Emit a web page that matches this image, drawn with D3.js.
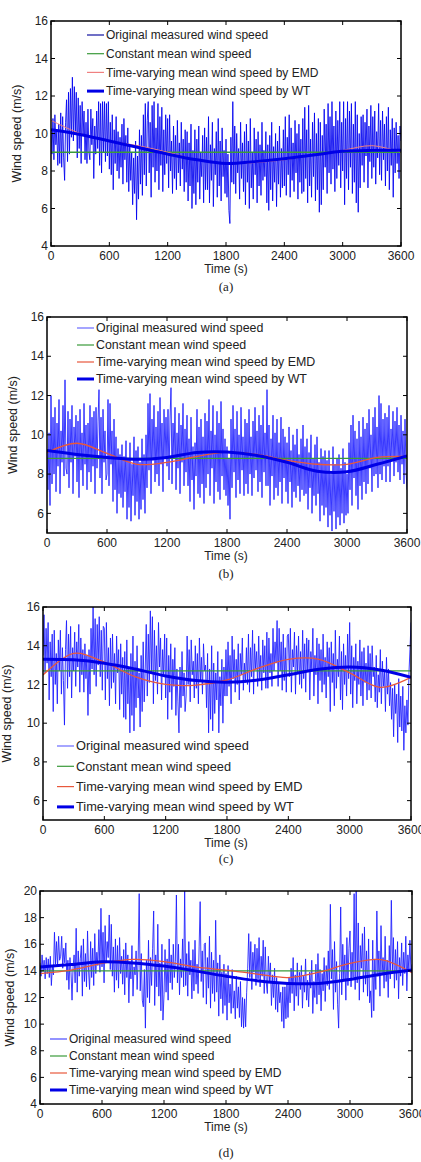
<!DOCTYPE html>
<html>
<head>
<meta charset="utf-8">
<script src="https://cdn.jsdelivr.net/npm/d3@7"></script>
<style>
  body { margin: 0; background: #fff; }
  svg { display: block; }
</style>
</head>
<body>
<div id="chart"></div>
<script>
// raw records every 10 s, smoothed means every 300 s
const smoothStep = 300;
const timeTicks = [0, 600, 1200, 1800, 2400, 3000, 3600];
const legendLabels = [
  'Original measured wind speed',
  'Constant mean wind speed',
  'Time-varying mean wind speed by EMD',
  'Time-varying mean wind speed by WT',
];
const captions = ['(a)', '(b)', '(c)', '(d)'];

// (a)
const rawA = [
  10.2, 8.9, 10.8, 8.6, 11.0, 9.4, 10.1, 8.3, 10.5, 8.4,
  11.1, 8.2, 10.9, 8.7, 7.5, 10.6, 11.8, 8.5, 12.2, 8.9,
  12.4, 9.8, 13.0, 9.6, 12.5, 10.1, 12.2, 8.7, 11.9, 9.2,
  11.5, 8.4, 11.7, 9.9, 11.2, 8.6, 10.6, 8.4, 11.3, 9.0,
  8.6, 11.3, 9.4, 10.8, 7.6, 10.4, 8.9, 11.2, 9.2, 11.7,
  8.3, 11.6, 7.9, 11.7, 9.0, 11.7, 8.5, 11.6, 8.8, 11.7,
  8.1, 10.6, 7.8, 11.0, 7.0, 10.2, 8.4, 10.9, 8.0, 10.1,
  7.6, 9.8, 8.2, 10.5, 7.3, 10.8, 8.6, 9.9, 7.4, 10.3,
  6.9, 9.4, 7.5, 9.0, 6.2, 8.7, 6.8, 9.6, 5.4, 8.8,
  6.5, 10.2, 7.3, 9.9, 6.7, 11.0, 7.8, 11.6, 7.2, 10.7,
  11.7, 7.9, 10.6, 6.6, 11.5, 8.2, 11.7, 7.4, 10.3, 8.0,
  11.6, 7.0, 10.9, 8.3, 11.4, 6.9, 10.2, 7.8, 11.0, 8.4,
  10.8, 7.1, 11.0, 8.0, 9.6, 6.8, 10.4, 7.6, 9.9, 7.0,
  10.7, 7.9, 9.5, 7.2, 10.6, 8.1, 9.7, 6.9, 10.2, 7.4,
  10.1, 6.4, 9.5, 7.2, 10.5, 6.0, 9.1, 6.8, 10.2, 6.2,
  9.7, 7.4, 10.4, 6.5, 9.0, 7.7, 9.9, 6.3, 10.3, 7.0,
  9.8, 7.0, 10.9, 6.3, 9.4, 7.5, 10.6, 6.1, 9.2, 7.8,
  10.1, 6.6, 10.8, 7.2, 9.6, 6.4, 10.3, 7.7, 9.1, 6.8,
  9.7, 6.6, 8.9, 5.9, 5.2, 9.8, 7.4, 11.7, 7.3, 10.4,
  6.8, 10.0, 7.9, 9.2, 6.5, 10.6, 7.6, 9.5, 6.9, 10.1,
  6.2, 10.5, 7.4, 9.6, 6.0, 10.8, 7.1, 9.0, 6.5, 10.3,
  7.8, 9.7, 6.3, 10.1, 7.2, 9.4, 6.7, 10.6, 7.5, 9.1,
  7.7, 10.1, 6.3, 9.4, 5.9, 9.9, 7.0, 10.6, 6.4, 9.3,
  7.4, 10.0, 6.1, 9.6, 7.3, 10.4, 6.6, 9.2, 7.1, 10.2,
  7.2, 10.9, 6.7, 9.8, 7.8, 11.0, 6.6, 10.3, 7.5, 9.5,
  6.9, 10.7, 7.9, 10.0, 6.5, 10.5, 7.4, 9.7, 6.8, 10.8,
  6.9, 11.4, 7.6, 10.2, 6.3, 11.5, 7.2, 9.7, 6.6, 10.6,
  7.7, 11.1, 6.4, 10.0, 7.0, 10.8, 5.8, 10.6, 6.2, 9.9,
  7.0, 11.3, 8.2, 10.5, 6.8, 11.6, 7.9, 10.9, 7.3, 11.7,
  8.1, 10.4, 6.9, 11.2, 7.6, 10.7, 8.3, 11.7, 7.1, 10.6,
  8.0, 11.7, 6.2, 10.8, 7.6, 11.7, 7.0, 11.2, 8.2, 11.6,
  6.8, 10.5, 7.4, 11.7, 6.3, 11.0, 5.8, 10.0, 7.1, 10.9,
  8.3, 11.0, 7.4, 10.6, 8.8, 11.3, 7.1, 10.4, 8.5, 11.5,
  7.6, 10.9, 8.2, 11.2, 7.3, 10.1, 8.7, 11.6, 7.8, 10.7,
  7.5, 11.2, 8.6, 10.5, 7.2, 10.9, 8.0, 11.4, 7.0, 10.2,
  8.3, 10.8, 6.6, 10.3, 7.9, 10.6, 8.4, 9.9, 7.6, 10.4,
  9.6,
];
const meanA = 9.0;
const emdA = [10.7, 10.0, 9.6, 9.35, 9.0, 8.6, 8.4, 8.45, 8.6, 8.85, 9.1, 9.35, 9.0];
const wtA = [10.2, 9.95, 9.6, 9.25, 8.9, 8.6, 8.4, 8.5, 8.65, 8.85, 9.05, 9.1, 9.1];

// (b)
const rawB = [
  9.2, 7.2, 10.1, 6.4, 12.0, 7.5, 10.9, 8.0, 11.4, 7.1,
  10.6, 8.4, 11.8, 7.0, 10.2, 8.6, 11.5, 7.9, 12.8, 8.3,
  8.0, 11.2, 7.3, 10.8, 8.6, 11.5, 7.0, 10.4, 8.9, 11.0,
  7.6, 10.7, 6.8, 11.3, 8.2, 10.1, 7.4, 11.6, 8.5, 10.5,
  7.2, 10.6, 8.1, 11.5, 7.6, 10.9, 8.4, 11.2, 7.0, 11.4,
  8.3, 10.7, 12.3, 7.8, 10.9, 7.0, 11.3, 8.6, 10.2, 7.7,
  8.0, 11.8, 7.4, 11.6, 8.5, 10.2, 6.6, 10.8, 7.2, 9.9,
  6.0, 9.3, 7.0, 9.0, 6.8, 9.5, 6.3, 8.9, 7.1, 9.7,
  5.7, 8.8, 6.3, 9.6, 5.6, 8.5, 6.9, 9.9, 5.9, 9.2,
  6.6, 9.4, 5.7, 8.6, 6.2, 9.8, 6.7, 9.0, 6.0, 10.0,
  7.3, 11.6, 8.2, 12.1, 7.0, 10.8, 8.7, 11.5, 7.6, 10.4,
  8.0, 11.2, 7.4, 11.9, 8.5, 10.6, 7.1, 11.3, 8.8, 10.9,
  8.4, 11.3, 7.7, 10.8, 12.4, 7.5, 10.6, 8.8, 11.4, 7.2,
  10.1, 8.3, 11.1, 7.0, 10.5, 8.6, 11.6, 7.4, 10.3, 8.1,
  11.0, 7.4, 9.8, 6.6, 10.9, 7.7, 9.4, 6.2, 9.6, 7.9,
  11.3, 7.0, 10.4, 6.8, 10.8, 7.5, 9.9, 6.5, 11.1, 7.3,
  10.7, 8.0, 11.8, 6.9, 10.2, 8.3, 11.5, 6.5, 10.0, 7.6,
  11.2, 7.1, 10.6, 6.7, 11.7, 7.9, 10.3, 7.2, 9.8, 6.9,
  9.4, 6.4, 8.8, 5.7, 10.8, 7.3, 11.5, 8.1, 10.3, 6.8,
  11.2, 7.7, 10.0, 7.0, 11.4, 8.2, 9.9, 6.9, 10.8, 7.5,
  10.6, 7.0, 11.3, 8.0, 9.9, 6.9, 10.7, 7.8, 11.4, 8.2,
  10.2, 7.1, 11.0, 7.6, 10.5, 6.8, 11.5, 8.1, 10.1, 7.4,
  12.3, 7.4, 10.5, 6.4, 9.8, 7.9, 11.0, 6.7, 10.1, 7.3,
  10.8, 6.9, 9.6, 7.6, 10.9, 6.5, 10.3, 7.8, 9.9, 7.1,
  9.6, 6.5, 10.4, 7.6, 9.2, 6.3, 10.0, 7.1, 9.5, 6.8,
  10.3, 7.4, 9.0, 6.6, 9.8, 7.2, 10.5, 6.9, 9.4, 7.0,
  9.8, 6.2, 9.1, 7.3, 10.0, 6.0, 8.8, 6.9, 9.5, 6.4,
  9.9, 7.0, 8.6, 5.6, 9.3, 6.4, 8.9, 5.9, 9.2, 6.3,
  8.7, 5.3, 9.2, 5.9, 8.0, 5.1, 9.4, 6.1, 8.5, 5.2,
  8.8, 5.8, 9.0, 5.4, 8.3, 6.0, 9.3, 5.5, 8.6, 5.9,
  8.0, 6.0, 9.6, 7.2, 10.5, 6.4, 11.0, 7.8, 10.2, 6.9,
  9.8, 6.2, 10.7, 7.4, 9.9, 6.7, 10.9, 7.6, 10.3, 7.0,
  10.6, 7.5, 11.3, 8.3, 10.0, 7.1, 10.9, 7.9, 11.4, 8.0,
  10.4, 7.3, 12.0, 8.0, 11.6, 7.7, 10.8, 8.4, 11.1, 7.6,
  10.9, 8.4, 11.5, 7.6, 10.3, 8.8, 11.2, 7.9, 10.7, 8.6,
  11.4, 8.1, 10.5, 7.7, 11.0, 8.5, 10.2, 7.5, 10.8, 8.2,
  7.2,
];
const meanB = 8.8;
const emdB = [9.1, 9.57, 9.05, 8.5, 8.6, 8.9, 9.12, 9.0, 8.7, 8.5, 8.5, 8.85, 8.9];
const wtB = [9.2, 9.0, 8.85, 8.75, 8.85, 9.1, 9.12, 8.95, 8.6, 8.15, 8.12, 8.5, 8.93];

// (c)
const rawC = [
  13.5, 15.6, 12.6, 14.9, 13.1, 15.2, 11.2, 14.2, 12.4, 14.6,
  10.6, 14.8, 12.0, 13.6, 11.0, 14.3, 12.7, 14.8, 11.5, 13.9,
  12.2, 9.9, 13.8, 15.3, 11.8, 14.6, 12.4, 15.0, 11.3, 13.9,
  12.7, 14.7, 11.9, 14.2, 12.9, 15.1, 11.6, 14.4, 12.5, 13.8,
  11.6, 14.1, 12.3, 13.5, 10.4, 13.8, 11.5, 14.9, 12.8, 16.0,
  12.5, 15.4, 11.9, 15.1, 13.0, 15.5, 12.4, 14.8, 11.7, 15.0,
  14.9, 11.2, 15.2, 12.3, 13.9, 10.9, 14.4, 11.8, 14.6, 12.1,
  13.6, 11.0, 14.5, 12.6, 13.8, 10.7, 14.1, 11.5, 13.4, 10.3,
  13.7, 10.2, 14.3, 11.0, 12.9, 9.5, 13.6, 10.4, 14.5, 9.6,
  13.2, 10.8, 14.0, 11.3, 12.6, 9.8, 13.5, 10.6, 14.2, 11.1,
  12.8, 15.1, 11.4, 14.6, 12.1, 15.8, 12.6, 15.5, 11.0, 14.8,
  12.2, 14.0, 11.5, 15.2, 12.9, 14.4, 11.2, 13.8, 12.4, 14.6,
  11.3, 14.4, 10.2, 13.5, 11.6, 14.1, 10.7, 13.3, 11.9, 13.9,
  10.4, 12.8, 11.1, 9.5, 12.9, 10.8, 13.7, 11.4, 12.6, 10.6,
  11.4, 14.5, 12.0, 13.8, 11.1, 14.3, 12.5, 13.2, 11.3, 14.0,
  11.8, 13.6, 11.0, 14.4, 12.2, 13.4, 11.5, 14.1, 12.7, 13.0,
  10.8, 13.6, 9.5, 12.8, 10.2, 14.0, 9.6, 13.1, 10.5, 12.6,
  11.2, 13.7, 9.5, 12.4, 10.9, 13.3, 10.0, 12.9, 11.4, 13.8,
  11.4, 14.2, 11.9, 13.5, 11.0, 14.5, 12.3, 13.8, 11.6, 13.3,
  12.0, 14.1, 11.2, 13.6, 12.5, 14.4, 11.7, 13.1, 12.1, 13.9,
  12.0, 14.6, 11.6, 13.9, 12.4, 14.8, 11.5, 14.1, 12.8, 13.7,
  11.9, 14.5, 12.3, 13.5, 11.7, 14.3, 12.6, 14.0, 11.8, 14.7,
  11.8, 14.4, 12.6, 13.6, 11.9, 14.9, 12.7, 14.2, 13.1, 15.3,
  11.9, 14.9, 12.7, 14.2, 11.7, 14.6, 12.2, 13.9, 11.6, 14.5,
  14.6, 12.4, 14.9, 11.6, 13.8, 12.9, 14.7, 11.5, 14.0, 12.6,
  14.5, 12.0, 13.7, 11.8, 14.8, 12.3, 14.1, 11.6, 14.4, 12.7,
  14.3, 11.2, 13.7, 12.8, 14.9, 11.4, 13.5, 12.5, 14.4, 11.0,
  14.1, 12.2, 13.8, 11.6, 14.6, 12.0, 13.4, 11.3, 14.2, 12.4,
  13.9, 10.6, 14.2, 12.1, 13.6, 10.9, 14.8, 11.8, 13.3, 12.4,
  14.5, 11.2, 13.7, 10.7, 14.1, 12.0, 13.5, 11.4, 14.6, 12.3,
  15.2, 11.5, 14.0, 10.8, 13.4, 12.2, 14.1, 11.0, 13.2, 12.0,
  14.3, 11.4, 13.7, 10.9, 13.9, 12.1, 13.1, 11.2, 14.0, 11.7,
  13.6, 11.3, 14.0, 12.4, 12.9, 11.1, 13.5, 10.8, 12.5, 11.6,
  13.8, 11.0, 13.2, 11.9, 12.7, 10.6, 13.4, 11.5, 12.8, 10.9,
  12.1, 10.2, 11.8, 9.3, 12.0, 10.5, 11.5, 9.0, 12.3, 9.8,
  11.4, 9.6, 11.9, 8.6, 10.9, 9.5, 11.2, 9.9, 12.6, 13.8,
  15.2,
];
const meanC = 12.7;
const emdC = [12.49, 13.6, 13.15, 12.4, 12.0, 11.97, 12.23, 12.83, 13.3, 13.3, 12.6, 11.85, 12.37];
const wtC = [13.3, 13.27, 13.1, 12.8, 12.44, 12.2, 12.12, 12.23, 12.5, 12.78, 12.9, 12.75, 12.37];

// (d)
const rawD = [
  14.6, 13.6, 15.2, 14.0, 14.8, 13.4, 15.0, 13.8, 14.9, 13.5,
  15.1, 12.9, 14.4, 13.7, 16.9, 14.5, 16.2, 14.3, 16.6, 14.8,
  15.1, 16.6, 14.2, 15.7, 14.6, 16.1, 13.3, 14.8, 12.6, 15.0,
  13.9, 11.8, 14.3, 15.2, 13.1, 17.2, 12.4, 15.5, 13.6, 14.9,
  15.9, 12.1, 16.4, 13.2, 15.3, 12.8, 17.0, 14.0, 12.6, 16.2,
  13.5, 15.7, 12.9, 16.8, 13.8, 15.4, 14.4, 17.1, 13.9, 18.7,
  14.3, 16.9, 13.1, 17.4, 14.6, 16.2, 15.0, 18.2, 14.1, 17.5,
  13.6, 15.8, 12.4, 16.4, 13.3, 15.9, 12.7, 16.5, 13.8, 15.1,
  13.0, 15.6, 12.2, 16.1, 13.5, 15.2, 11.6, 14.7, 13.4, 15.9,
  12.1, 14.3, 13.7, 15.5, 12.6, 14.9, 19.8, 12.5, 15.3, 11.8,
  11.3, 14.1, 9.7, 14.8, 12.0, 16.3, 11.6, 15.0, 12.9, 15.7,
  18.5, 11.4, 15.2, 12.8, 17.5, 12.1, 14.6, 11.0, 16.0, 10.3,
  12.2, 15.6, 12.4, 14.9, 11.8, 16.4, 13.1, 15.2, 12.6, 16.0,
  13.5, 14.7, 19.7, 13.1, 16.0, 12.2, 14.9, 13.5, 16.4, 12.8,
  20.0, 12.9, 15.3, 12.1, 16.2, 13.7, 14.8, 11.9, 15.6, 12.5,
  16.3, 13.0, 14.5, 12.3, 15.8, 19.2, 13.2, 15.5, 12.0, 16.0,
  16.1, 11.5, 15.0, 12.7, 16.6, 11.2, 15.4, 12.3, 14.8, 11.7,
  17.8, 12.4, 14.6, 10.6, 15.2, 11.9, 13.9, 10.8, 14.5, 11.4,
  13.8, 10.3, 14.4, 11.6, 13.0, 10.8, 14.1, 11.2, 12.5, 10.4,
  13.6, 11.2, 12.8, 10.5, 13.2, 9.8, 12.0, 9.7, 11.9, 9.8,
  12.4, 14.2, 16.8, 13.5, 16.2, 12.6, 15.4, 13.9, 16.0, 12.9,
  15.7, 13.4, 16.5, 12.8, 15.1, 13.6, 16.3, 12.3, 15.8, 13.1,
  12.3, 15.1, 13.2, 14.6, 11.4, 13.7, 12.0, 14.2, 11.1, 13.5,
  10.9, 13.0, 11.6, 12.4, 10.2, 12.8, 9.7, 12.8, 10.4, 13.1,
  10.5, 13.5, 11.6, 14.2, 12.3, 15.0, 11.0, 13.7, 12.1, 14.6,
  11.4, 13.9, 12.6, 14.4, 11.2, 13.6, 12.4, 14.9, 11.8, 13.3,
  11.3, 13.9, 12.7, 14.8, 10.8, 13.2, 12.0, 14.5, 11.5, 15.3,
  12.2, 14.1, 11.0, 13.8, 12.5, 15.0, 11.7, 14.4, 12.9, 15.5,
  12.6, 19.0, 13.4, 15.6, 11.1, 16.2, 12.4, 14.7, 11.5, 9.7,
  13.8, 18.8, 12.2, 16.0, 13.3, 15.2, 11.8, 16.5, 12.9, 15.7,
  17.0, 12.8, 15.4, 13.5, 19.8, 12.6, 20.0, 13.1, 17.6, 11.8,
  15.9, 14.2, 16.8, 12.4, 17.3, 13.0, 15.5, 12.1, 16.4, 11.6,
  12.5, 10.5, 16.3, 11.0, 14.9, 12.6, 18.5, 13.6, 15.5, 12.1,
  17.4, 13.8, 15.0, 12.7, 16.6, 13.2, 14.8, 12.0, 15.9, 13.4,
  19.3, 14.0, 16.5, 12.7, 15.6, 13.3, 16.2, 11.9, 15.0, 13.6,
  16.1, 12.9, 15.4, 13.8, 16.6, 12.5, 15.2, 14.1, 16.3, 13.9,
  14.5,
];
const meanD = 14.0;
const emdD = [13.8, 14.06, 14.56, 14.86, 14.7, 14.3, 14.06, 13.76, 13.5, 13.9, 14.56, 14.85, 13.86];
const wtD = [14.3, 14.48, 14.68, 14.6, 14.36, 14.0, 13.6, 13.26, 13.06, 13.06, 13.36, 13.75, 14.06];

const yTicksA = [4, 6, 8, 10, 12, 14, 16];
const yTicksB = [6, 8, 10, 12, 14, 16];
const yTicksD = [4, 6, 8, 10, 12, 14, 16, 18, 20];

const panels = [
  { raw: rawA, mean: meanA, emd: emdA, wt: wtA, yDomain: [4, 16], yTicks: yTicksA,
    box: { l: 51, r: 401, t: 21, b: 246 }, leg: { x: 87, y: 35, dy: 18.7, fs: 12 },
    ylabX: 17, timeY: 273, capY: 291, rawColor: '#0000f0', legRaw: '#1010a0', emdColor: '#f08080', emdW: 1 },
  { raw: rawB, mean: meanB, emd: emdB, wt: wtB, yDomain: [5, 16], yTicks: yTicksB,
    box: { l: 47, r: 407, t: 317, b: 533 }, leg: { x: 77, y: 328, dy: 17, fs: 12.4 },
    ylabX: 13, timeY: 560, capY: 578, rawColor: '#1a1aff', legRaw: '#6a6aff', emdColor: '#e8583c', emdW: 1.3 },
  { raw: rawC, mean: meanC, emd: emdC, wt: wtC, yDomain: [5, 16], yTicks: yTicksB,
    box: { l: 43, r: 411, t: 607, b: 820 }, leg: { x: 57, y: 746, dy: 20.3, fs: 12.8 },
    ylabX: 7, timeY: 847, capY: 863, rawColor: '#1a1aff', legRaw: '#6a6aff', emdColor: '#e8583c', emdW: 1.3 },
  { raw: rawD, mean: meanD, emd: emdD, wt: wtD, yDomain: [4, 20], yTicks: yTicksD,
    box: { l: 40, r: 412, t: 891, b: 1104 }, leg: { x: 50, y: 1039, dy: 17, fs: 12 },
    ylabX: 10, timeY: 1131, capY: 1157, rawColor: '#1a1aff', legRaw: '#4a4aff', emdColor: '#e8583c', emdW: 1.3 },
];

const svg = d3.select('#chart').append('svg')
  .attr('width', 421).attr('height', 1162)
  .style('font-family', '"Liberation Sans", Arial, sans-serif');

const txt = '#222';

panels.forEach((p, k) => {
  const b = p.box;
  const x = d3.scaleLinear().domain([0, 3600]).range([b.l, b.r]);
  const y = d3.scaleLinear().domain(p.yDomain).range([b.b, b.t]);
  const g = svg.append('g');

  const clipId = `clip${k}`;
  g.append('clipPath').attr('id', clipId)
    .append('rect').attr('x', b.l).attr('y', b.t).attr('width', b.r - b.l).attr('height', b.b - b.t);

  const plot = g.append('g').attr('clip-path', `url(#${clipId})`);

  const rawStep = 3600 / (p.raw.length - 1);
  const rawLine = d3.line().x((d, i) => x(i * rawStep)).y((d) => y(d));
  const smoothLine = d3.line().x((d, i) => x(i * smoothStep)).y((d) => y(d)).curve(d3.curveCatmullRom);

  plot.append('path').attr('d', rawLine(p.raw))
    .attr('fill', 'none').attr('stroke', p.rawColor).attr('stroke-width', 1).attr('stroke-opacity', 0.85);
  plot.append('line')
    .attr('x1', x(0)).attr('x2', x(3600)).attr('y1', y(p.mean)).attr('y2', y(p.mean))
    .attr('stroke', '#3a9a3a').attr('stroke-width', 1.3);
  plot.append('path').attr('d', smoothLine(p.emd))
    .attr('fill', 'none').attr('stroke', p.emdColor).attr('stroke-width', p.emdW);
  plot.append('path').attr('d', smoothLine(p.wt))
    .attr('fill', 'none').attr('stroke', '#0000e6').attr('stroke-width', 3);

  // inward ticks on all sides
  const tl = 4;
  p.yTicks.forEach((v) => {
    g.append('line').attr('x1', b.l).attr('x2', b.l + tl).attr('y1', y(v)).attr('y2', y(v)).attr('stroke', '#000');
    g.append('line').attr('x1', b.r).attr('x2', b.r - tl).attr('y1', y(v)).attr('y2', y(v)).attr('stroke', '#000');
    g.append('text').text(v).attr('x', b.l - 3).attr('y', y(v)).attr('dy', '0.35em')
      .attr('text-anchor', 'end').attr('font-size', 12).attr('fill', txt);
  });
  timeTicks.forEach((v) => {
    g.append('line').attr('x1', x(v)).attr('x2', x(v)).attr('y1', b.b).attr('y2', b.b - tl).attr('stroke', '#000');
    g.append('line').attr('x1', x(v)).attr('x2', x(v)).attr('y1', b.t).attr('y2', b.t + tl).attr('stroke', '#000');
    g.append('text').text(v).attr('x', x(v)).attr('y', b.b + 14)
      .attr('text-anchor', 'middle').attr('font-size', 12).attr('fill', txt);
  });

  g.append('rect').attr('x', b.l).attr('y', b.t).attr('width', b.r - b.l).attr('height', b.b - b.t)
    .attr('fill', 'none').attr('stroke', '#000').attr('stroke-width', 1.5);

  // legend
  const legStyles = [
    { c: p.legRaw, w: 1.2 },
    { c: '#3a9a3a', w: 1.2 },
    { c: p.emdColor, w: 1.2 },
    { c: '#0000e6', w: 3 },
  ];
  legendLabels.forEach((lab, i) => {
    const ly = p.leg.y + i * p.leg.dy;
    g.append('line').attr('x1', p.leg.x).attr('x2', p.leg.x + 17).attr('y1', ly).attr('y2', ly)
      .attr('stroke', legStyles[i].c).attr('stroke-width', legStyles[i].w);
    g.append('text').text(lab).attr('x', p.leg.x + 19).attr('y', ly).attr('dy', '0.35em')
      .attr('font-size', p.leg.fs).attr('fill', txt);
  });

  g.append('text').text('Wind speed (m/s)')
    .attr('transform', `translate(${p.ylabX},${(b.t + b.b) / 2}) rotate(-90)`)
    .attr('dy', '0.35em').attr('text-anchor', 'middle').attr('font-size', 12.5).attr('fill', txt);
  g.append('text').text('Time (s)').attr('x', 226).attr('y', p.timeY)
    .attr('text-anchor', 'middle').attr('font-size', 12).attr('fill', txt);
  g.append('text').text(captions[k]).attr('x', 226).attr('y', p.capY)
    .attr('text-anchor', 'middle').attr('font-size', 13)
    .attr('font-family', '"Liberation Serif", "Times New Roman", serif').attr('fill', txt);
});
</script>
</body>
</html>
